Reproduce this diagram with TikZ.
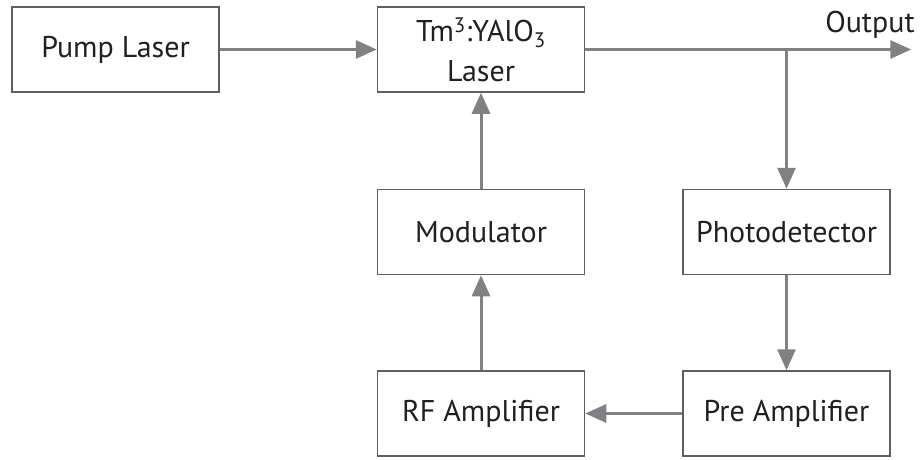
\documentclass[tikz,border=0pt]{standalone}
\usepackage{fontspec}
\setmainfont{PT Sans}
\usetikzlibrary{positioning,arrows.meta}
\definecolor{boxgray}{RGB}{95,95,98}
\definecolor{arrowgray}{RGB}{128,129,133}
\definecolor{textdark}{RGB}{35,31,32}
\begin{document}
\begin{tikzpicture}[
    x=1pt, y=1pt,
    node distance=96pt,
    box/.style={rectangle, draw=boxgray, line width=1.5pt, minimum width=207pt, minimum height=85pt, inner sep=0pt, align=center, text=textdark, font=\fontsize{30}{40}\selectfont},
    arrow/.style={-{Triangle[length=21pt,width=18pt]}, line width=3pt, draw=arrowgray}
]
    \useasboundingbox (0,0) rectangle (920,459);
    \node[box] (pump) at (115.5,409.5) {Pump Laser};
    \node[box, right=157pt of pump] (laser) {Tm\textsuperscript{3}:YAlO\textsubscript{3}\\Laser};
    \node[box, below=of laser] (modulator) {Modulator};
    \node[box, right=97pt of modulator] (photo) {Photodetector};
    \node[box, below=95pt of modulator] (rfamp) {RF Amplifier};
    \node[box, right=97pt of rfamp] (preamp) {Pre Amplifier};
    \coordinate (out) at ([xshift=326pt]laser.east);
    \node[anchor=base east, text=textdark, font=\fontsize{30}{36}\selectfont] (outlbl) at ([xshift=7pt,yshift=17pt]out) {Output};

    \draw[arrow] (pump) -- (laser);
    \draw[arrow] (laser) -- (out);
    \draw[arrow] (photo |- laser) -- (photo);
    \draw[arrow] (photo) -- (preamp);
    \draw[arrow] (preamp) -- (rfamp);
    \draw[arrow] (rfamp) -- (modulator);
    \draw[arrow] (modulator) -- (laser);
\end{tikzpicture}
\end{document}
